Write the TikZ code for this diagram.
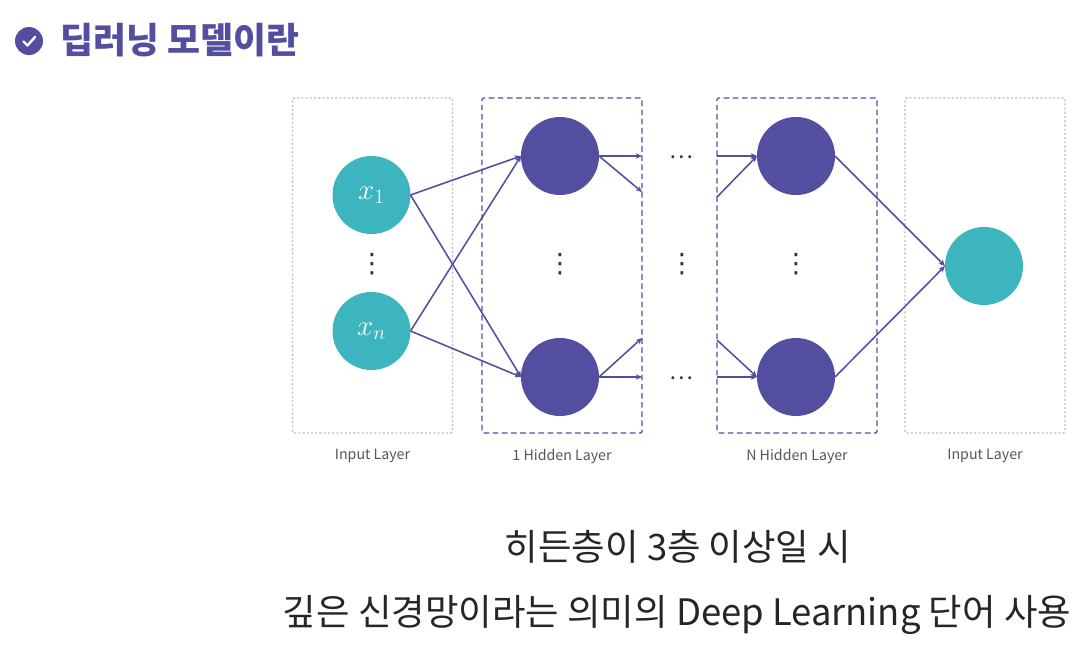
\documentclass[tikz,border=0pt]{standalone}
\usepackage{fontspec}
\setmainfont{Noto Sans CJK KR}
\newfontfamily\dotsfont{DejaVu Sans}
\usetikzlibrary{arrows.meta}
\definecolor{deeppurple}{HTML}{534EA0}
\definecolor{tealfill}{HTML}{3DB5BE}
\definecolor{boxgray}{HTML}{BDB8C2}
\definecolor{labelgray}{HTML}{55555F}
\begin{document}
\begin{tikzpicture}[
    x=0.025cm, y=-0.025cm,
    layerbox/.style n args={2}{
        draw=#1,
        #2,
        rounded corners=1pt,
        minimum width=160*0.025cm,
        minimum height=335*0.025cm,
        inner sep=0pt,
        outer sep=0pt
    },
    neuron/.style={
        circle,
        fill=#1,
        minimum size=78*0.025cm,
        inner sep=0pt,
        outer sep=0pt,
        text=white,
        font=\fontsize{21}{24}\selectfont
    },
    link/.style={
        draw=deeppurple,
        line width=1.1pt,
        -{Stealth[length=4.5pt,width=4pt]}
    },
    mylabel/.style={font=\fontsize{10.1}{12}\selectfont, text=labelgray},
    vdotsnode/.style={font=\dotsfont\fontsize{19}{21}\selectfont, text=black!80, inner sep=0pt},
    hdotsnode/.style={font=\fontsize{16}{18}\selectfont, text=black!80, inner sep=0pt},
    bigtext/.style={font=\fontsize{25.9}{30}\selectfont, text=black!85, inner sep=0pt}
]
\useasboundingbox (0,0) rectangle (1081,653);

% --- title ---
\node[circle, fill=deeppurple, minimum size=28*0.025cm, inner sep=0pt] (badge) at (29,41) {};
\draw[white, line width=1.7pt, line cap=round, line join=round]
    (23.5,41.5) -- (27.5,45.5) -- (35,37);
\node[anchor=west, inner sep=0pt, text=deeppurple, font=\fontsize{25.5}{30}\selectfont\bfseries]
    (title) at (60,40) {딥러닝 모델이란};

% --- layer boxes ---
\node[layerbox={boxgray}{dash pattern=on 1.5pt off 1.5pt, line width=0.8pt}] (boxIn) at (372.5,265.5) {};
\node[layerbox={deeppurple}{dash pattern=on 4pt off 2.5pt, line width=0.9pt}] (boxOne) at (562,265.5) {};
\node[layerbox={deeppurple}{dash pattern=on 4pt off 2.5pt, line width=0.9pt}] (boxN) at (797,265.5) {};
\node[layerbox={boxgray}{dash pattern=on 1.5pt off 1.5pt, line width=0.8pt}] (boxOut) at (985,265.5) {};

% --- neurons ---
\node[neuron=tealfill] (xOne) at (371.5,195) {$x_1$};
\node[neuron=tealfill] (xN) at (371.5,331) {$x_n$};
\node[neuron=deeppurple] (hOneTop) at (560,156) {};
\node[neuron=deeppurple] (hOneBot) at (560,377) {};
\node[neuron=deeppurple] (hNTop) at (796,156) {};
\node[neuron=deeppurple] (hNBot) at (796,377) {};
\node[neuron=tealfill] (yOut) at (984,266) {};

% --- free ends of the short links ---
\coordinate (oA) at (642,156);
\coordinate (oB) at (642,192);
\coordinate (oC) at (642,338);
\coordinate (oD) at (642,377);
\coordinate (iA) at (717,156);
\coordinate (iB) at (717,197);
\coordinate (iC) at (717,340);
\coordinate (iD) at (717,377);

% --- links ---
\draw[link] (xOne.east) -- (hOneTop.west);
\draw[link] (xOne.east) -- (hOneBot.west);
\draw[link] (xN.east) -- (hOneTop.west);
\draw[link] (xN.east) -- (hOneBot.west);
\draw[link] (hOneTop.east) -- (oA);
\draw[link] (hOneTop.east) -- (oB);
\draw[link] (hOneBot.east) -- (oC);
\draw[link] (hOneBot.east) -- (oD);
\draw[link] (iA) -- (hNTop.west);
\draw[link] (iB) -- (hNTop.west);
\draw[link] (iC) -- (hNBot.west);
\draw[link] (iD) -- (hNBot.west);
\draw[link] (hNTop.east) -- (yOut.west);
\draw[link] (hNBot.east) -- (yOut.west);

% --- dots ---
\node[vdotsnode] (vA) at (372,264) {⋮};
\node[vdotsnode] (vB) at (560,264) {⋮};
\node[vdotsnode] (vC) at (682,264) {⋮};
\node[vdotsnode] (vD) at (796,264) {⋮};
\node[hdotsnode] (hA) at (681,157) {⋯};
\node[hdotsnode] (hB) at (681,378) {⋯};

% --- layer labels ---
\node[mylabel, below=8pt] (lIn) at (boxIn.south) {Input Layer};
\node[mylabel, below=8pt] (lOne) at (boxOne.south) {1 Hidden Layer};
\node[mylabel, below=8pt] (lN) at (boxN.south) {N Hidden Layer};
\node[mylabel, below=8pt] (lOut) at (boxOut.south) {Input Layer};

% --- caption ---
\node[bigtext] (capOne) at (678,547) {히든층이 3층 이상일 시};
\node[bigtext] (capTwo) at (677,615) {깊은 신경망이라는 의미의 Deep Learning 단어 사용};
\end{tikzpicture}
\end{document}
